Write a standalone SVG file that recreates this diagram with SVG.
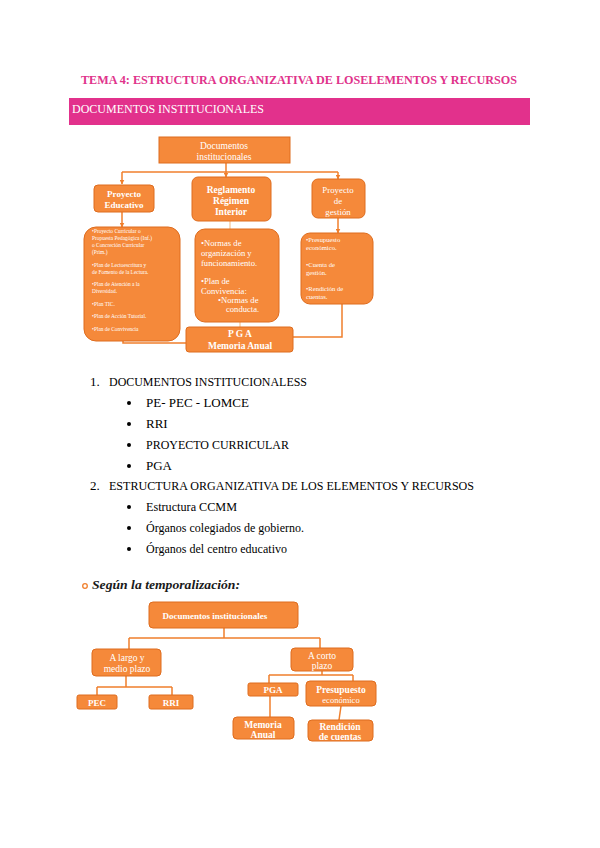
<svg xmlns="http://www.w3.org/2000/svg" width="600" height="848" viewBox="0 0 600 848">
<style>
.bx{fill:#f5893a;stroke:#de6c1e;stroke-width:1}
.ln{fill:none;stroke:#f07f2c;stroke-width:1.5}
.pl{fill:none;stroke:#f9cfa8;stroke-width:1.5}
.w{fill:#fff;font-family:"Liberation Serif",serif}
.wb{fill:#fff;font-family:"Liberation Serif",serif;font-weight:bold}
.tx{fill:#000;font-family:"Liberation Serif",serif;font-size:13px}
</style>
<defs>
<marker id="ar" viewBox="0 0 10 10" refX="9" refY="5" markerWidth="5" markerHeight="5" orient="auto" markerUnits="userSpaceOnUse">
<path d="M0,0 L10,5 L0,10 z" fill="#f07f2c"/>
</marker>
</defs>
<rect width="600" height="848" fill="#fff"/>

<text x="299" y="84" text-anchor="middle" font-family="Liberation Serif,serif" font-weight="bold" font-size="13" fill="#e0338b" textLength="436" lengthAdjust="spacingAndGlyphs">TEMA 4: ESTRUCTURA ORGANIZATIVA DE LOSELEMENTOS Y RECURSOS</text>
<rect x="69" y="98" width="461" height="27" fill="#e2318c"/>
<text x="72" y="113" font-family="Liberation Serif,serif" font-size="13" fill="#fff" textLength="192" lengthAdjust="spacingAndGlyphs">DOCUMENTOS INSTITUCIONALES</text>

<g id="connectors-top">
<path class="ln" d="M226,163 V172"/>
<path class="ln" d="M122,172 H338"/>
<path class="ln" d="M122,172 V184" marker-end="url(#ar)"/>
<path class="ln" d="M226,172 V177" marker-end="url(#ar)"/>
<path class="ln" d="M338,172 V179" marker-end="url(#ar)"/>
<path class="ln" d="M122,212 V227" marker-end="url(#ar)"/>
<path class="ln" d="M338,218 V233" marker-end="url(#ar)"/>
<path class="pl" d="M230,221 V229"/>
<path class="pl" d="M240,322 V327"/>
<path class="ln" d="M123,341 V343 H186"/>
<path class="ln" d="M342,304 V337 H293"/>
</g>

<g id="doc-inst">
<rect class="bx" x="159" y="137" width="131" height="26"/>
<text class="w" x="224" y="149" text-anchor="middle" font-size="9.5">Documentos</text>
<text class="w" x="224" y="159.5" text-anchor="middle" font-size="9.5">institucionales</text>
</g>
<g id="proy-edu">
<rect class="bx" x="94" y="185" width="60" height="27" rx="4"/>
<text class="wb" x="124" y="197" text-anchor="middle" font-size="9">Proyecto</text>
<text class="wb" x="124" y="208" text-anchor="middle" font-size="9">Educativo</text>
</g>
<g id="rri">
<rect class="bx" x="192" y="177" width="79" height="44" rx="6"/>
<text class="wb" x="231" y="193" text-anchor="middle" font-size="9.5">Reglamento</text>
<text class="wb" x="231" y="204" text-anchor="middle" font-size="9.5">Régimen</text>
<text class="wb" x="231" y="214.5" text-anchor="middle" font-size="9.5">Interior</text>
</g>
<g id="proy-gest">
<rect class="bx" x="312" y="179" width="53" height="39" rx="6"/>
<text class="w" x="338" y="193" text-anchor="middle" font-size="8.8">Proyecto</text>
<text class="w" x="338" y="204" text-anchor="middle" font-size="8.8">de</text>
<text class="w" x="338" y="214.5" text-anchor="middle" font-size="8.8">gestión</text>
</g>
<g id="lista-pe">
<rect class="bx" x="84" y="227" width="96" height="114" rx="12"/>
<g class="w" font-size="5.4">
<text x="92" y="233">•Proyecto Curricular o</text>
<text x="92" y="240">Propuesta Pedagógica (Inf.)</text>
<text x="92" y="247">o Concreción Curricular</text>
<text x="92" y="254">(Prim.)</text>
<text x="92" y="267">•Plan de Lectoescritura y</text>
<text x="92" y="274">de Fomento de la Lectura.</text>
<text x="92" y="286">•Plan de Atención a la</text>
<text x="92" y="293">Diversidad.</text>
<text x="92" y="306">•Plan TIC.</text>
<text x="92" y="318">•Plan de Acción Tutorial.</text>
<text x="92" y="331">•Plan de Convivencia</text>
</g>
</g>
<g id="lista-rri">
<rect class="bx" x="195" y="229" width="84" height="93" rx="10"/>
<g class="w" font-size="8.6">
<text x="201" y="246">•Normas de</text>
<text x="201" y="256">organización y</text>
<text x="201" y="266">funcionamiento.</text>
<text x="201" y="284">•Plan de</text>
<text x="201" y="294">Convivencia:</text>
<text x="218" y="303">•Normas de</text>
<text x="226" y="312">conducta.</text>
</g>
</g>
<g id="lista-gest">
<rect class="bx" x="301" y="233" width="72" height="71" rx="9"/>
<g class="w" font-size="6.6">
<text x="306" y="242">•Presupuesto</text>
<text x="306" y="250">económico.</text>
<text x="306" y="267">•Cuenta de</text>
<text x="306" y="275">gestión.</text>
<text x="306" y="291">•Rendición de</text>
<text x="306" y="299">cuentas.</text>
</g>
</g>
<g id="pga">
<rect class="bx" x="186" y="327" width="107" height="25" rx="3"/>
<text class="wb" x="240" y="337" text-anchor="middle" font-size="9.5">P G A</text>
<text class="wb" x="240" y="348.5" text-anchor="middle" font-size="9.5">Memoria Anual</text>
</g>

<g id="lista">
<text class="tx" x="90" y="386">1.</text>
<text class="tx" x="109" y="386" textLength="198" lengthAdjust="spacingAndGlyphs">DOCUMENTOS INSTITUCIONALESS</text>
<circle cx="129" cy="403" r="2" fill="#000"/>
<text class="tx" x="146" y="407">PE- PEC - LOMCE</text>
<circle cx="129" cy="424" r="2" fill="#000"/>
<text class="tx" x="146" y="428">RRI</text>
<circle cx="129" cy="445" r="2" fill="#000"/>
<text class="tx" x="146" y="449" textLength="143" lengthAdjust="spacingAndGlyphs">PROYECTO CURRICULAR</text>
<circle cx="129" cy="466" r="2" fill="#000"/>
<text class="tx" x="146" y="470">PGA</text>
<text class="tx" x="90" y="490">2.</text>
<text class="tx" x="109" y="490" textLength="365" lengthAdjust="spacingAndGlyphs">ESTRUCTURA ORGANIZATIVA DE LOS ELEMENTOS Y RECURSOS</text>
<circle cx="129" cy="507" r="2" fill="#000"/>
<text class="tx" x="146" y="511" textLength="91" lengthAdjust="spacingAndGlyphs">Estructura CCMM</text>
<circle cx="129" cy="528" r="2" fill="#000"/>
<text class="tx" x="146" y="532" textLength="158" lengthAdjust="spacingAndGlyphs">Órganos colegiados de gobierno.</text>
<circle cx="129" cy="549" r="2" fill="#000"/>
<text class="tx" x="146" y="553" textLength="141" lengthAdjust="spacingAndGlyphs">Órganos del centro educativo</text>
</g>

<circle cx="85" cy="586" r="2.3" fill="none" stroke="#f07f2c" stroke-width="1.3"/>
<text x="92" y="589" font-family="Liberation Serif,serif" font-weight="bold" font-style="italic" font-size="12" fill="#1a1a1a" textLength="148" lengthAdjust="spacingAndGlyphs">Según la temporalización:</text>

<g id="connectors-bottom">
<path class="ln" d="M224,628 V638 M129,638 H320 M129,638 V649 M320,638 V649"/>
<path class="ln" d="M126,676 V687 M97,687 H172 M97,687 V695 M172,687 V695"/>
<path class="ln" d="M322,671 V675 M269,675 H353 M269,675 V683 M353,675 V681"/>
<path class="ln" d="M270,696 V717"/>
<path class="ln" d="M341,706 L339,720"/>
</g>

<g id="b-doc">
<rect class="bx" x="149" y="602" width="149" height="26" rx="4"/>
<text class="wb" x="215" y="619" text-anchor="middle" font-size="9">Documentos institucionales</text>
</g>
<g id="b-largo">
<rect class="bx" x="92" y="649" width="69" height="27" rx="4"/>
<text class="w" x="127" y="661" text-anchor="middle" font-size="9.5">A largo  y</text>
<text class="w" x="127" y="671.5" text-anchor="middle" font-size="9.5">medio plazo</text>
</g>
<g id="b-corto">
<rect class="bx" x="291" y="648" width="62" height="23" rx="4"/>
<text class="w" x="322" y="658.5" text-anchor="middle" font-size="9.5">A corto</text>
<text class="w" x="322" y="668.5" text-anchor="middle" font-size="9.5">plazo</text>
</g>
<g id="b-pec">
<rect class="bx" x="77" y="695" width="40" height="14" rx="2"/>
<text class="wb" x="97" y="705.5" text-anchor="middle" font-size="9">PEC</text>
</g>
<g id="b-rri">
<rect class="bx" x="149" y="695" width="44" height="14" rx="2"/>
<text class="wb" x="171" y="705.5" text-anchor="middle" font-size="9">RRI</text>
</g>
<g id="b-pga">
<rect class="bx" x="248" y="683" width="50" height="13" rx="2"/>
<text class="wb" x="273" y="693" text-anchor="middle" font-size="9">PGA</text>
</g>
<g id="b-presup">
<rect class="bx" x="306" y="681" width="70" height="25" rx="4"/>
<text class="wb" x="341" y="692.5" text-anchor="middle" font-size="9.5">Presupuesto</text>
<text class="w" x="341" y="703" text-anchor="middle" font-size="8.5">económico</text>
</g>
<g id="b-memoria">
<rect class="bx" x="233" y="717" width="61" height="22" rx="4"/>
<text class="wb" x="263" y="727.5" text-anchor="middle" font-size="9.5">Memoria</text>
<text class="wb" x="263" y="737.5" text-anchor="middle" font-size="9.5">Anual</text>
</g>
<g id="b-rendicion">
<rect class="bx" x="308" y="720" width="65" height="21" rx="4"/>
<text class="wb" x="340" y="729.5" text-anchor="middle" font-size="9.5">Rendición</text>
<text class="wb" x="340" y="739.5" text-anchor="middle" font-size="9.5">de cuentas</text>
</g>
</svg>
